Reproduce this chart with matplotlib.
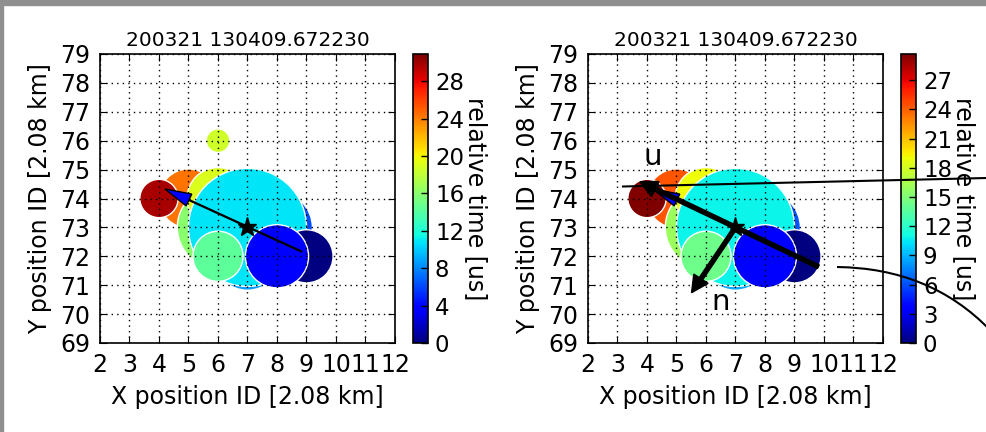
import matplotlib
matplotlib.use('Agg')
import matplotlib.pyplot as plt
import numpy as np
from matplotlib.lines import Line2D
from matplotlib.patches import PathPatch, Rectangle
from matplotlib.path import Path

# station positions, circle radius (data units) and relative time [us]
pos_x = [5, 6, 6, 8, 7, 7, 9, 6, 8, 4, 6]
pos_y = [74, 73, 74, 73, 72, 73, 72, 72, 72, 74, 76]
radius = [1.0, 1.38, 1.05, 1.2, 1.15, 2.0, 0.9, 0.85, 1.07, 0.65, 0.4]
rel_time = [24.3, 16.0, 19.0, 6.2, 8.6, 10.8, 0.0, 14.3, 3.5, 29.7, 18.5]

title = '200321 130409.672230'
vmax_left, vmax_right = 30.9, 29.7
cticks_left = [0, 4, 8, 12, 16, 20, 24, 28]
cticks_right = [0, 3, 6, 9, 12, 15, 18, 21, 24, 27]

star = (7, 73)
arrow_tail, arrow_tip = (8.84, 72.16), (4.2, 74.33)
u_tail, u_tip = (9.81, 71.64), (3.76, 74.58)
n_tail, n_tip = (7.0, 73.0), (5.51, 70.74)

plt.rcParams['font.family'] = ['DejaVu Sans']
fig = plt.figure(figsize=(9.87, 4.32), dpi=100)


def fpos(x0, y0, x1, y1):
    # pixel box -> figure fraction rect
    return [x0 / 987, 1 - y1 / 432, (x1 - x0) / 987, (y1 - y0) / 432]


def panel(ax, cax, n, vmax, cticks):
    ax.set_xlim(2, 12)
    ax.set_ylim(69, 79)
    ppu = (ax.transData.transform((1, 0)) - ax.transData.transform((0, 0)))[0]
    s = (2 * np.array(radius[:n]) * ppu * 72 / fig.dpi) ** 2
    sc = ax.scatter(pos_x[:n], pos_y[:n], s=s, c=rel_time[:n], cmap='jet', vmin=0, vmax=vmax,
                    edgecolors='white', linewidths=1, zorder=1)
    ax.plot(star[0], star[1], 'k*', ms=14, zorder=4)
    ax.arrow(arrow_tail[0], arrow_tail[1], arrow_tip[0] - arrow_tail[0], arrow_tip[1] - arrow_tail[1],
             width=0.03, head_width=0.45, head_length=0.9, length_includes_head=True,
             fc='b', ec='k', lw=1, zorder=3)
    ax.set_xticks(range(2, 13))
    ax.set_yticks(range(69, 80))
    ax.grid(True, color='k', linestyle=(0, (1, 3)), linewidth=1)
    ax.set_axisbelow(False)
    ax.tick_params(direction='in', top=True, right=True, length=5, labelsize=17, pad=7)
    for sp in ax.spines.values():
        sp.set_linewidth(1.2)
    ax.set_title(title, fontsize=14.5, pad=6)
    ax.set_xlabel('X position ID [2.08 km]', fontsize=17, labelpad=6)
    ax.set_ylabel('Y position ID [2.08 km]', fontsize=17, labelpad=6)

    cb = fig.colorbar(sc, cax=cax, ticks=cticks)
    cb.ax.tick_params(labelsize=16.5, direction='in', length=5, pad=5, width=1)
    cb.outline.set_linewidth(1.2)
    cax.text(4.2, 0.5, 'relative time [us]', rotation=270, va='center', ha='center',
             fontsize=17, transform=cax.transAxes)


ax1 = fig.add_axes(fpos(100, 54, 395, 343))
cax1 = fig.add_axes(fpos(413, 54, 428, 343))
panel(ax1, cax1, len(pos_x), vmax_left, cticks_left)

ax2 = fig.add_axes(fpos(588, 54, 883, 343))
cax2 = fig.add_axes(fpos(901, 54, 916, 343))
panel(ax2, cax2, len(pos_x) - 1, vmax_right, cticks_right)

# direction vectors u and n
for tail, tip in [(u_tail, u_tip), (n_tail, n_tip)]:
    ax2.arrow(tail[0], tail[1], tip[0] - tail[0], tip[1] - tail[1], width=0.14,
              head_width=0.58, head_length=0.58, length_includes_head=True,
              fc='k', ec='k', zorder=5)
ax2.text(4.2, 75.44, 'u', fontsize=21, ha='center', va='center', zorder=6)
ax2.text(6.5, 70.43, 'n', fontsize=21, ha='center', va='center', zorder=6)

# screenshot frame and overlaid guide lines
fig.add_artist(Rectangle((0, 1 - 5 / 432), 1, 5 / 432, transform=fig.transFigure,
                         color='#8f8f8f', zorder=10))
fig.add_artist(Rectangle((0, 0), 3 / 987, 1, transform=fig.transFigure,
                         color='#8f8f8f', zorder=10))
fig.add_artist(Line2D([623 / 987, 1], [1 - 186.5 / 432, 1 - 178 / 432], color='k', lw=1.5,
                      transform=fig.transFigure, zorder=10))
pts = [(837 / 987, 1 - 267 / 432), (930 / 987, 1 - 268 / 432), (990 / 987, 1 - 330 / 432)]
fig.add_artist(PathPatch(Path(pts, [Path.MOVETO, Path.CURVE3, Path.CURVE3]), fill=False,
                         lw=1.5, ec='k', transform=fig.transFigure, zorder=10))

fig.savefig('out.png', dpi=100)
